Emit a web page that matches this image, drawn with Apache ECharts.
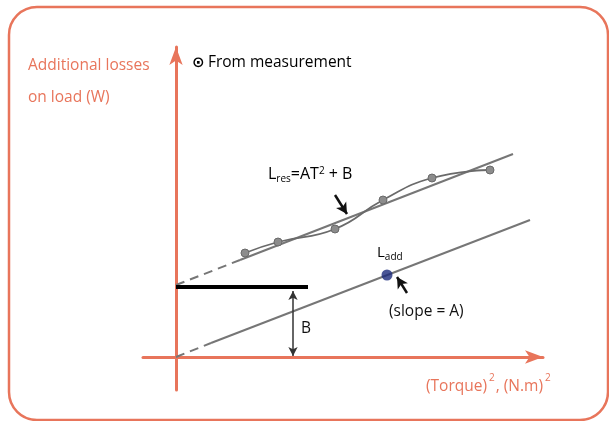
<!DOCTYPE html>
<html>
<head>
<meta charset="utf-8">
<style>
    html, body { margin: 0; padding: 0; background: #fff; }
    #chart { width: 609px; height: 421px; }
</style>
<script src="https://cdn.jsdelivr.net/npm/echarts@6/dist/echarts.min.js"></script>
</head>
<body>
<div id="chart"></div>
<script>
// measured points (torque^2, additional losses)
const measTorque2 = [69, 102, 159, 207, 256, 314]
const measLoss = [104, 115, 128, 157, 179, 187]

// L_res = A*T^2 + B : dashed extrapolation then fitted line
const resFitTorque2 = [0, 64, 337]
const resFitLoss = [72, 97, 203]

// L_add line through origin (slope = A)
const addFitTorque2 = [0, 35, 354]
const addFitLoss = [0, 14, 137]

// B level bar and one L_add point
const bLevel = [70, 70]
const bBarTorque2 = [0, 132]
const lAddPoint = [211, 82]

const ORANGE = '#e8755b'
const GREY = '#767676'
const FONT = 'Open Sans'

const zip = (xs, ys) => xs.map((x, i) => [x, ys[i]])

const resData = zip(resFitTorque2, resFitLoss)
const addData = zip(addFitTorque2, addFitLoss)

/**
 * @description 箭头注释，用 markLine 画
 */
const arrowLine = (from, to, both = false, color = '#111', width = 2.5) => ({
    symbol: [both ? 'arrow' : 'none', 'arrow'],
    symbolSize: both ? [7, 9] : [9, 11],
    lineStyle: { color, width, type: 'solid' },
    label: { show: false },
    data: [[{ coord: from }, { coord: to }]],
    silent: true,
    animation: false,
})

const chart = echarts.init(document.getElementById('chart'))

let option = {
    animation: false,
    backgroundColor: '#fff',
    grid: { left: 143, right: 66, top: 47, bottom: 31 },
    xAxis: {
        type: 'value',
        min: -33,
        max: 367,
        axisLine: {
            onZero: true,
            symbol: ['none', 'arrow'],
            symbolSize: [10, 18],
            lineStyle: { color: ORANGE, width: 3 },
        },
        axisTick: { show: false },
        axisLabel: { show: false },
        splitLine: { show: false },
    },
    yAxis: {
        type: 'value',
        min: -33,
        max: 310,
        axisLine: {
            onZero: true,
            symbol: ['none', 'arrow'],
            symbolSize: [10, 18],
            lineStyle: { color: ORANGE, width: 3 },
        },
        axisTick: { show: false },
        axisLabel: { show: false },
        splitLine: { show: false },
    },
    series: [
        {
            name: 'res dashed',
            type: 'line',
            data: resData.slice(0, 2),
            symbol: 'none',
            lineStyle: { color: GREY, width: 2, type: [9, 6] },
        },
        {
            name: 'res fit',
            type: 'line',
            data: resData.slice(1),
            symbol: 'none',
            lineStyle: { color: GREY, width: 2 },
        },
        {
            name: 'From measurement',
            type: 'line',
            data: zip(measTorque2, measLoss),
            smooth: 0.5,
            symbol: 'circle',
            symbolSize: 8,
            itemStyle: { color: '#8c8c8c', borderColor: '#6a6a6a', borderWidth: 1 },
            lineStyle: { color: '#6a6a6a', width: 1.8 },
        },
        {
            name: 'add dashed',
            type: 'line',
            data: addData.slice(0, 2),
            symbol: 'none',
            lineStyle: { color: GREY, width: 2, type: [9, 6] },
        },
        {
            name: 'add fit',
            type: 'line',
            data: addData.slice(1),
            symbol: 'none',
            lineStyle: { color: GREY, width: 2 },
        },
        {
            name: 'B',
            type: 'line',
            data: zip(bBarTorque2, bLevel),
            symbol: 'none',
            lineStyle: { color: '#000', width: 4 },
            z: 5,
        },
        {
            name: 'L_add',
            type: 'scatter',
            data: [lAddPoint],
            symbolSize: 11,
            itemStyle: { color: '#1b2a7c' },
            z: 6,
        },
        {
            name: 'arrow res',
            type: 'line',
            data: [],
            markLine: arrowLine([159, 162], [171, 143]),
        },
        {
            name: 'arrow add',
            type: 'line',
            data: [],
            markLine: arrowLine([231, 64], [221, 80]),
        },
        {
            name: 'arrow B',
            type: 'line',
            data: [],
            markLine: arrowLine([117, 66], [117, 1], true, '#333', 1.5),
        },
    ],
    graphic: [
        {
            type: 'rect',
            shape: { x: 9, y: 7, width: 599, height: 413, r: 28 },
            style: { fill: 'none', stroke: ORANGE, lineWidth: 2.5 },
            silent: true,
            z: -1,
        },
        {
            type: 'text',
            left: 28,
            top: 50,
            style: {
                text: 'Additional losses\non load (W)',
                fill: ORANGE,
                font: `15.5px "${FONT}"`,
                lineHeight: 32,
            },
        },
        {
            type: 'text',
            left: 192,
            top: 55,
            style: {
                text: '{c|⊙} {t|From measurement}',
                rich: {
                    c: { fontSize: 15, fontFamily: 'DejaVu Sans', fontWeight: 'bold', color: '#111' },
                    t: { fontSize: 15.5, fontFamily: FONT, color: '#111' },
                },
            },
        },
        {
            type: 'text',
            left: 426,
            top: 373,
            style: {
                text: '{t|(Torque)}{s|2}{t|, (N.m)}{s|2}',
                fill: ORANGE,
                rich: {
                    t: { fontSize: 15.5, fontFamily: FONT, color: ORANGE, padding: [8, 0, 0, 0] },
                    s: { fontSize: 10, fontFamily: FONT, color: ORANGE, padding: [0, 1, 10, 2] },
                },
            },
        },
        {
            type: 'text',
            left: 268,
            top: 166,
            style: {
                text: '{t|L}{b|res}{t|=AT}{s|2}{t| + B}',
                rich: {
                    t: { fontSize: 16, fontFamily: FONT, color: '#111' },
                    b: { fontSize: 10, fontFamily: FONT, color: '#111', padding: [9, 0, 0, 0] },
                    s: { fontSize: 10, fontFamily: FONT, color: '#111', padding: [0, 0, 7, 0] },
                },
            },
        },
        {
            type: 'text',
            left: 377,
            top: 245,
            style: {
                text: '{t|L}{b|add}',
                rich: {
                    t: { fontSize: 15, fontFamily: FONT, color: '#1d5aa8' },
                    b: { fontSize: 10, fontFamily: FONT, color: '#1d5aa8', padding: [9, 0, 0, 0] },
                },
            },
        },
        {
            type: 'text',
            left: 389,
            top: 304,
            style: {
                text: '(slope = A)',
                fill: '#111',
                font: `15.5px "${FONT}"`,
            },
        },
        {
            type: 'text',
            left: 301,
            top: 321,
            style: {
                text: 'B',
                fill: '#111',
                font: `15.5px "${FONT}"`,
            },
        },
    ],
}

chart.setOption(option)
window.addEventListener('resize', () => {
    chart.resize()
})
</script>
</body>
</html>
